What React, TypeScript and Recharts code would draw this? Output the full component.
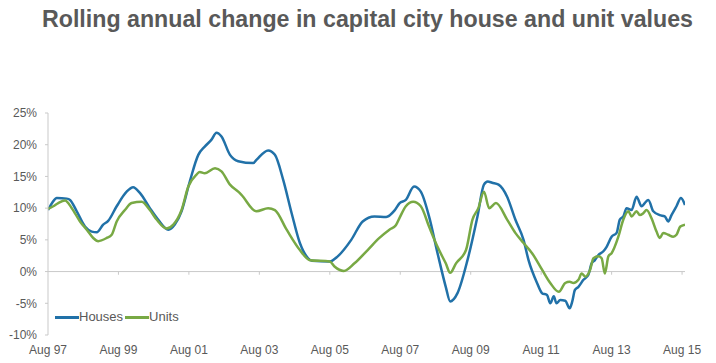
import { LineChart, Line, XAxis, YAxis, ReferenceLine, Legend } from 'recharts';

// months since Aug 97
const houseMonths = [
	0, 1.5, 3, 6.4, 7.5, 9.8, 12.6, 14.9, 16.6, 18.8, 20.5, 23.4, 26.8, 29, 31.3, 34.7, 37.5, 41, 43.2, 45.5,
	48.3, 51.2, 53.4, 55.7, 57.4, 59.1, 62, 64.8, 69.9, 71, 75, 77.3, 80.1, 83, 85.8, 88.6, 89.9, 96, 98.7, 103.3,
	107.2, 111.2, 115.2, 118, 119.8, 121.9, 124.7, 127, 129.8, 132.7, 135.5, 137, 139.5, 142.9, 146.3, 148.5, 149.8,
	151.3, 153.5, 156.4, 159.2, 162, 163.7, 166.6, 168.3, 170, 171.1, 172.3, 173.2, 174.5, 176.2, 177.7, 178.6,
	179.5, 180.7, 182.4, 184.1, 185.2, 186.3, 187.5, 189.2, 190.3, 192, 193.7, 194.8, 196, 197.1, 198.8, 200.5,
	202.2, 203.3, 204.5, 206.2, 208.4, 210.1, 211.3, 212.4, 214.1, 215.6, 217,
];
const houseValues = [
	9.7, 10.9, 11.6, 11.5, 11.3, 9.5, 7.1, 6.3, 6.2, 7.4, 8.0, 10.3, 12.6, 13.3, 12.4, 10.0, 8.2, 6.6, 7.4, 9.5,
	14.2, 18.4, 19.7, 20.8, 21.9, 21.3, 18.4, 17.4, 17.1, 17.6, 19.1, 18.4, 14.5, 9.2, 4.5, 2.1, 1.7, 1.6, 2.4, 5.0,
	7.9, 8.7, 8.6, 9.6, 10.8, 11.3, 13.4, 12.6, 8.7, 2.9, -2.4, -4.7, -3.4, 1.8, 8.7, 13.7, 14.2,
	14.0, 13.7, 11.8, 8.2, 5.0, 1.8, -1.8, -3.4, -3.7, -5.0, -3.9, -5.0, -4.5, -4.6, -5.8, -4.7,
	-2.9, -2.4, -1.3, -0.5, 1.3, 1.8, 2.6, 3.2, 3.9, 5.5, 6.1, 8.2, 8.7, 10.0, 9.7, 11.8,
	10.3, 10.8, 11.3, 9.5, 8.9, 8.7, 7.9, 8.9, 10.3, 11.6, 10.5,
];

const unitMonths = [
	0, 1.8, 3.5, 5.8, 8.1, 10.9, 13.2, 15.4, 17.1, 20, 21.7, 23.4, 26.2, 28.5, 31.9, 34.7, 37, 40.4, 42.7, 45.5,
	47.8, 50.6, 51.7, 53.4, 56.9, 59.1, 62, 64.8, 65.9, 71, 75, 77.3, 81.3, 85.8, 89.2, 96, 97.6, 100.8, 104.4,
	108.9, 112.9, 116.3, 118.5, 119.8, 121.9, 124.4, 127, 129.8, 132.7, 135.5, 137, 139, 142.4, 144.6, 146.6, 148.5,
	150.3, 152.6, 156.4, 159.2, 162, 164.9, 168.3, 171.1, 174, 176.2, 177.7, 179, 180.7, 181.8, 183, 184.7, 185.8,
	187.5, 188.6, 189.7, 190.9, 192, 194.3, 196, 197.7, 198.8, 200.5, 201.6, 202.8, 203.9, 205.6, 207.3, 208.4,
	209.6, 211.3, 213, 214.1, 215.4, 217,
];
const unitValues = [
	9.9, 10.3, 10.8, 11.2, 10.0, 7.9, 6.6, 5.3, 4.8, 5.3, 5.8, 7.9, 9.7, 10.8, 11.0, 9.7, 8.2, 6.8, 7.4, 9.7,
	13.4, 15.3, 15.7, 15.5, 16.3, 15.8, 13.7, 12.6, 12.1, 9.5, 10.0, 9.7, 6.6, 3.4, 1.8, 1.6, 0.8, 0.1, 1.3,
	3.4, 5.3, 6.6, 7.3, 8.5, 10.3, 11.0, 10.3, 7.1, 3.9, 1.3, -0.2, 1.3, 3.4, 8.2, 10.0, 12.6,
	10.0, 10.8, 8.2, 6.1, 4.5, 2.9, 0.3, -1.8, -3.2, -1.8, -1.6, -1.8, -1.3, -0.3, -0.8, 0.3, 2.1,
	2.4, 2.1, -0.3, 2.4, 2.9, 5.5, 8.2, 9.5, 8.7, 9.5, 8.9, 9.2, 9.7, 8.4, 6.3, 5.3,
	6.1, 5.8, 5.5, 5.8, 7.1, 7.4,
];

const tickMonths = [0, 24, 48, 72, 96, 120, 144, 168, 192, 216];
const tickLabels = ['Aug 97', 'Aug 99', 'Aug 01', 'Aug 03', 'Aug 05', 'Aug 07', 'Aug 09', 'Aug 11', 'Aug 13', 'Aug 15'];
const yTicks = [-10, -5, 0, 5, 10, 15, 20, 25];

const houses = houseMonths.map((m, i) => ({ month: m, value: houseValues[i] }));
const units = unitMonths.map((m, i) => ({ month: m, value: unitValues[i] }));

const TEXT = '#595959';
const AXIS = '#c9c9c9';

function LegendContent({ payload }: { payload?: Array<{ value: string; color: string }> }) {
	return (
		<div style={{ display: 'flex', alignItems: 'center', fontSize: 13, color: TEXT, lineHeight: '16px' }}>
			{(payload ?? []).map((item) => (
				<span key={item.value} style={{ display: 'flex', alignItems: 'center', marginRight: 2 }}>
					<span style={{ display: 'inline-block', width: 24, height: 3, background: item.color }} />
					<span>{item.value}</span>
				</span>
			))}
		</div>
	);
}

export default function App() {
	return (
		<div
			style={{
				position: 'absolute',
				left: 0,
				top: 0,
				width: 716,
				height: 363,
				background: '#fff',
				fontFamily: "'Liberation Sans', Arial, sans-serif",
			}}
		>
			<svg width={716} height={40} style={{ position: 'absolute', left: 0, top: 0 }}>
				<text
					x={42}
					y={26.7}
					fontSize={23}
					fontWeight="bold"
					fill={TEXT}
					textLength={651}
					lengthAdjust="spacingAndGlyphs"
				>
					Rolling annual change in capital city house and unit values
				</text>
			</svg>
			<div style={{ position: 'absolute', left: 0, top: 0 }}>
				<LineChart width={716} height={363} margin={{ top: 113, right: 31, bottom: 0, left: 0 }}>
					<XAxis
						dataKey="month"
						type="number"
						domain={[0, 217]}
						ticks={tickMonths}
						tickFormatter={(v: number) => tickLabels[tickMonths.indexOf(v)] ?? ''}
						axisLine={false}
						tickLine={false}
						tickSize={0}
						tickMargin={10}
						height={28}
						interval={0}
						tick={{ fill: TEXT, fontSize: 12 }}
						allowDataOverflow
					/>
					<YAxis
						type="number"
						domain={[-10, 25]}
						ticks={yTicks}
						tickFormatter={(v: number) => `${v}%`}
						width={48}
						axisLine={{ stroke: AXIS }}
						tickLine={{ stroke: AXIS }}
						tickSize={3}
						tickMargin={8}
						tick={{ fill: TEXT, fontSize: 12 }}
						interval={0}
					/>
					<ReferenceLine y={0} stroke={AXIS} strokeWidth={1} />
					{tickMonths.slice(1).map((m) => (
						<ReferenceLine
							key={m}
							segment={[
								{ x: m, y: 0 },
								{ x: m, y: -0.5 },
							]}
							stroke={AXIS}
						/>
					))}
					<Legend
						layout="horizontal"
						verticalAlign="middle"
						align="center"
						content={<LegendContent />}
						wrapperStyle={{ left: 55, top: 309, width: 'auto' }}
					/>
					<Line
						data={houses}
						dataKey="value"
						name="Houses"
						type="monotone"
						stroke="#2171a8"
						strokeWidth={2.5}
						dot={false}
						isAnimationActive={false}
					/>
					<Line
						data={units}
						dataKey="value"
						name="Units"
						type="monotone"
						stroke="#78a944"
						strokeWidth={2.5}
						dot={false}
						isAnimationActive={false}
					/>
				</LineChart>
			</div>
		</div>
	);
}
